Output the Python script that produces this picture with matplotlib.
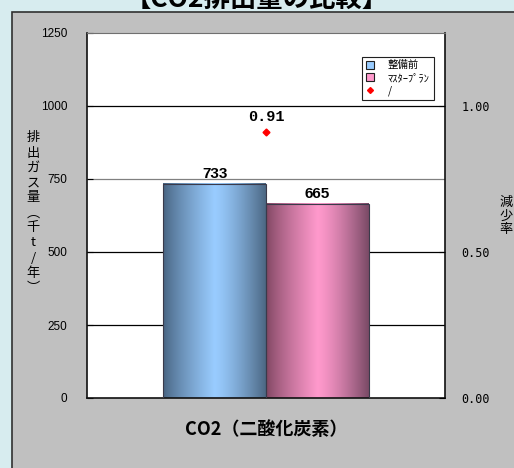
import numpy as np
import matplotlib
matplotlib.use("Agg")
import matplotlib.pyplot as plt
from matplotlib.patches import Rectangle, Patch
from matplotlib.lines import Line2D
from matplotlib.colors import to_rgb

# CO2 emissions before/after the master plan, and the reduction ratio
category = "CO2（二酸化炭素）"
series = ["整備前", "ﾏｽﾀｰﾌﾟﾗﾝ"]
emissions = [733, 665]
ratio = 0.91
left_ticks = [0, 250, 500, 750, 1000, 1250]
right_ticks = [0.0, 0.5, 1.0]

jp = ["Noto Sans CJK JP", "DejaVu Sans"]
plt.rcParams["font.family"] = ["Liberation Sans", "DejaVu Sans"]

fig = plt.figure(figsize=(5.14, 4.68), dpi=100)
fig.patch.set_facecolor("#d7ecef")

# grey panel behind the chart
W, H = 514, 468
fig.add_artist(Rectangle((12 / W, -0.05), 1.0, 1 - 12 / H + 0.05,
                         transform=fig.transFigure, facecolor="#c0c0c0",
                         edgecolor="#303030", lw=1.2, zorder=0))

fig.text(257 / W, 1 - 8 / H, "【CO2排出量の比較】", ha="center", va="baseline",
         fontsize=19, fontweight="bold", family=jp)

ax = fig.add_axes([87 / W, 1 - 398 / H, (445 - 87) / W, (398 - 33) / H])
ax.set_facecolor("white")
ax.set_xlim(-0.5, 0.5)
ax.set_ylim(0, 1250)

for y in left_ticks[1:-1]:
    ax.axhline(y, color="#808080" if y == 750 else "#000000", lw=0.9, zorder=1)

width = 0.287
xs = [-width / 2, width / 2]
bars = ax.bar(xs, emissions, width=width, facecolor="none",
              edgecolor="#3a3a4a", lw=0.8, zorder=3)

# horizontal metallic shading inside each bar
shades = [("#46627f", "#99ccff", "#4c6884"), ("#7e4560", "#ff99cc", "#7a4a66")]
t = np.linspace(0, 1, 200)
for b, (c0, c1, c2) in zip(bars, shades):
    c0, c1, c2 = map(np.array, (to_rgb(c0), to_rgb(c1), to_rgb(c2)))
    row = np.empty((1, len(t), 3))
    for i, v in enumerate(t):
        if v < 0.5:
            f = (v / 0.5) ** 0.8
            row[0, i] = c0 + (c1 - c0) * f
        else:
            f = ((v - 0.5) / 0.5) ** 1.3
            row[0, i] = c1 + (c2 - c1) * f
    x0, w, h = b.get_x(), b.get_width(), b.get_height()
    ax.imshow(row, extent=[x0, x0 + w, 0, h], aspect="auto", zorder=2,
              interpolation="bilinear")
    ax.text(x0 + w / 2, h + 10, f"{h:.0f}", ha="center", va="bottom",
            fontsize=11, fontweight="bold", family="Liberation Sans")

ax.set_xlim(-0.5, 0.5)
ax.set_ylim(0, 1250)
ax.set_yticks(left_ticks)
ax.set_yticklabels([str(v) for v in left_ticks], fontsize=8.5)
ax.tick_params(axis="y", direction="in", length=4, pad=14)
ax.set_xticks([0])
ax.set_xticklabels([category], fontsize=13, fontweight="bold", family=jp)
ax.tick_params(axis="x", length=0, pad=16)
for side in ["left", "bottom", "right"]:
    ax.spines[side].set_color("#101010")
    ax.spines[side].set_linewidth(1.2)
ax.spines["top"].set_color("#707070")

ax2 = ax.twinx()
ax2.set_ylim(0, 1.25)
ax2.set_yticks(right_ticks)
ax2.set_yticklabels([f"{v:.2f}" for v in right_ticks], fontsize=8.5,
                    family="DejaVu Sans Mono")
ax2.tick_params(axis="y", direction="in", length=4, pad=12)
ax2.plot([0], [ratio], "D", color="#ff0000", ms=3.5, zorder=5)
ax2.text(0, ratio + 0.03, f"{ratio:.2f}", ha="center", va="bottom",
         fontsize=11, fontweight="bold", family="Liberation Mono")
for s in ax2.spines.values():
    s.set_visible(False)

fig.text(33 / W, 1 - 213 / H, "\n".join("排出ガス量︵千t/年︶"), ha="center",
         va="center", fontsize=9.5, family=jp, linespacing=1.2)
fig.text(506 / W, 1 - 216 / H, "\n".join("減少率"), ha="center", va="center",
         fontsize=9.5, family=jp, linespacing=1.05)

handles = [Patch(facecolor="#99ccff", edgecolor="#202020", lw=0.8),
           Patch(facecolor="#ff99cc", edgecolor="#202020", lw=0.8),
           Line2D([], [], marker="D", color="#ff0000", ls="none", ms=3)]
leg = ax.legend(handles, series + ["/"], loc="upper right",
                bbox_to_anchor=(0.968, 0.935), fancybox=False,
                edgecolor="#202020", framealpha=1, handlelength=0.8,
                handleheight=0.8, handletextpad=1.3, borderpad=0.35,
                labelspacing=0.25, borderaxespad=0,
                prop={"family": jp, "size": 7.5})
leg.get_frame().set_linewidth(0.8)
leg.set_zorder(10)

fig.savefig("out.png", dpi=100)
